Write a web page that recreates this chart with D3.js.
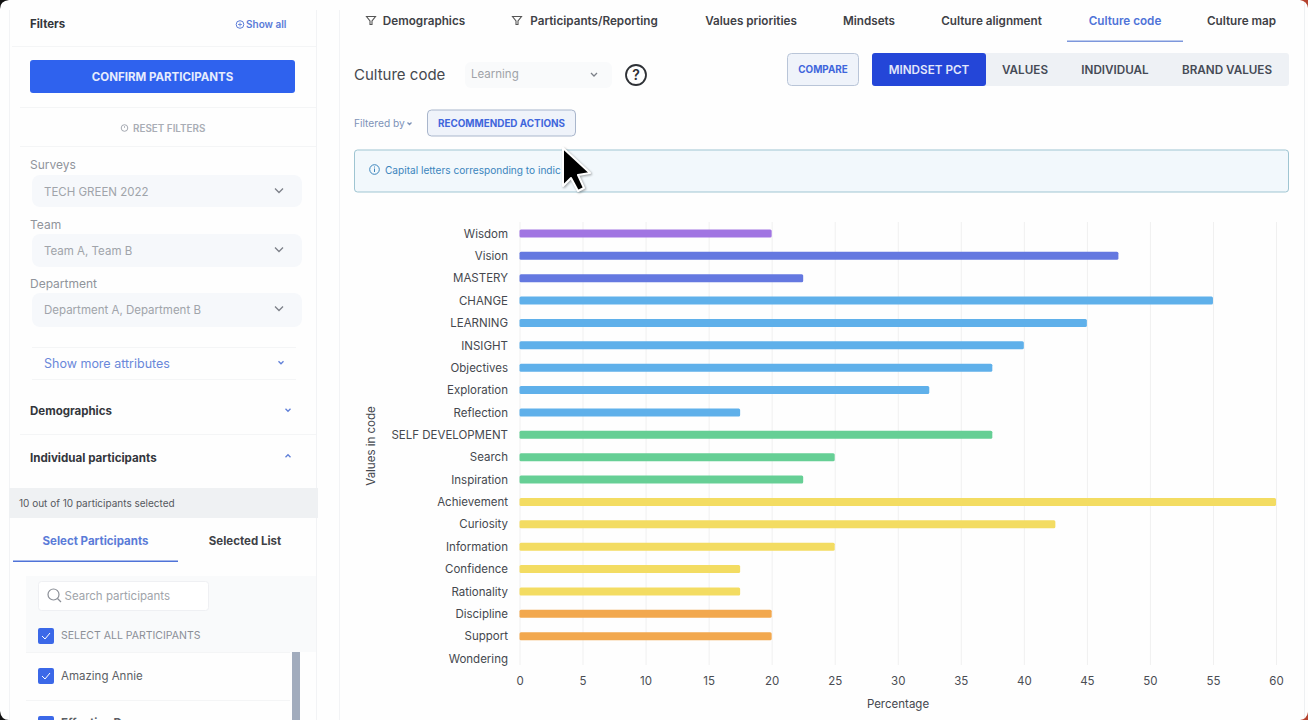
<!DOCTYPE html>
<html><head><meta charset="utf-8">
<style>html,body{margin:0;padding:0;background:#fff;overflow:hidden}svg{display:block;font-family:Inter,"Noto Sans",sans-serif}</style>
<script src="https://cdn.jsdelivr.net/npm/d3@7"></script></head>
<body><svg id="c" width="1308" height="720"></svg>
<script>
// ---------- data ----------
const categories = ["Wisdom","Vision","MASTERY","CHANGE","LEARNING","INSIGHT","Objectives","Exploration","Reflection","SELF DEVELOPMENT","Search","Inspiration","Achievement","Curiosity","Information","Confidence","Rationality","Discipline","Support","Wondering"];
const values = [20,47.5,22.5,55,45,40,37.5,32.5,17.5,37.5,25,22.5,60,42.5,25,17.5,17.5,20,20,0];
const groups = ["purple","indigo","indigo","blue","blue","blue","blue","blue","blue","green","green","green","yellow","yellow","yellow","yellow","yellow","orange","orange","red"];
const groupNames = ["purple","indigo","blue","green","yellow","orange","red"];
const groupColors = ["#a175e2","#6478e0","#5fb0ea","#66cf95","#f3dc62","#f2a84e","#e8655a"];
const xTicks = [0,5,10,15,20,25,30,35,40,45,50,55,60];
const xAxisLabel = "Percentage", yAxisLabel = "Values in code";
const topTabs = ["Demographics","Participants/Reporting","Values priorities","Mindsets","Culture alignment","Culture code","Culture map"];
const segments = ["MINDSET PCT","VALUES","INDIVIDUAL","BRAND VALUES"];
const selectLabels = ["Surveys","Team","Department"];
const selectValues = ["TECH GREEN 2022","Team A, Team B","Department A, Department B"];

const svg = d3.select("#c");
function T(x,y,s,o={}){return svg.append("text").attr("x",x).attr("y",y).attr("dy","0.35em")
  .attr("font-size",o.size||12).attr("font-weight",o.w||400).attr("fill",o.c||"#444")
  .attr("text-anchor",o.a||"start").text(s);}
function R(x,y,w,h,f,o={}){return svg.append("rect").attr("x",x).attr("y",y).attr("width",w).attr("height",h)
  .attr("rx",o.r||0).attr("fill",f).attr("stroke",o.s||"none").attr("stroke-width",o.sw||1);}
function L(x1,y1,x2,y2,c="#f4f5f6",w=1){svg.append("line").attr("x1",x1).attr("y1",y1).attr("x2",x2).attr("y2",y2).attr("stroke",c).attr("stroke-width",w);}
function Chev(x,y,c="#777",up=false,s=4){const d=up?-1:1;
  svg.append("path").attr("d",`M${x-s},${y-d*s/2}L${x},${y+d*s/2}L${x+s},${y-d*s/2}`).attr("fill","none").attr("stroke",c).attr("stroke-width",1.3);}
function Funnel(x,y){svg.append("path").attr("d",`M${x-4.5},${y-4}H${x+4.5}L${x+1},${y+.5}V${y+4}H${x-1}V${y+.5}Z`).attr("fill","none").attr("stroke","#555").attr("stroke-width",1.1);}
function Check(x,y){R(x,y,16,16,"#3b68e8",{r:2});
  svg.append("path").attr("d",`M${x+4},${y+8}L${x+7},${y+11}L${x+12},${y+5}`).attr("fill","none").attr("stroke","#fff").attr("stroke-width",1);}

// ---------- frame ----------
R(0,0,1308,720,"#fefefe");
L(9.5,10,9.5,720,"#f2f3f5"); L(316.5,10,316.5,720,"#f2f3f5"); L(339.5,10,339.5,720,"#f2f3f5"); L(1304.5,0,1304.5,720,"#eef0f2");

// ---------- sidebar ----------
T(30,23.5,"Filters",{size:11.5,w:700,c:"#33363c"});
svg.append("circle").attr("cx",240).attr("cy",24.5).attr("r",3.8).attr("fill","none").attr("stroke","#5a7bd8");
svg.append("path").attr("d","M238,24.5h4M240,22.5v4").attr("stroke","#5a7bd8").attr("stroke-width",.8);
T(246,24.5,"Show all",{size:10,w:600,c:"#5a7bd8"});
L(12,46.5,316,46.5);
R(30,60,265,33,"#2f62ee",{r:3});
T(162.5,76.5,"CONFIRM PARTICIPANTS",{size:11.5,w:700,c:"#e6ecfd",a:"middle"});
L(20,107.5,316,107.5); L(20,146.5,316,146.5);
svg.append("circle").attr("cx",124.5).attr("cy",128).attr("r",3.3).attr("fill","none").attr("stroke","#a5a9b2");
L(124.5,126,124.5,128,"#a5a9b2",.8);
T(133,128.5,"RESET FILTERS",{size:9.9,w:600,c:"#a9adb5"});
const selLabelY=[165,225,284], selTop=[175,234,293], selH=[32,33,34];
selectLabels.forEach((s,i)=>{
  T(30,selLabelY[i],s,{size:12,c:"#90949b"});
  R(32,selTop[i],270,selH[i],"#f6f8fb",{r:8});
  T(44,selTop[i]+16.5,selectValues[i],{size:11.5,c:"#a0a4aa"});
  Chev(279,selTop[i]+15.5,"#7c8088");
});
L(32,347.5,296,347.5); L(32,379.5,296,379.5);
T(44,364,"Show more attributes",{size:12.5,c:"#6a88da"});
Chev(281,362.5,"#5f7fd8",false,2.5);
T(30,410.5,"Demographics",{size:11.5,w:700,c:"#33363c"});
Chev(288,410,"#5f7fd8",false,2.5);
L(20,434.5,316,434.5);
T(30,457.5,"Individual participants",{size:11.6,w:700,c:"#33363c"});
Chev(288,456,"#5f7fd8",true,2.5);
R(9,488,309,30,"#eff1f3");
T(19,503.5,"10 out of 10 participants selected",{size:10,c:"#55585e"});
T(95.5,540.5,"Select Participants",{size:11.5,w:700,c:"#5a7bd8",a:"middle"});
T(245,540.5,"Selected List",{size:11.5,w:700,c:"#3e4146",a:"middle"});
R(13,560.5,165,1.5,"#4f73d8");
R(26,576,290,76,"#f9fafb");
R(38.5,581.5,170,29,"#fff",{r:3,s:"#eff0f3"});
svg.append("circle").attr("cx",53.5).attr("cy",594.5).attr("r",5.5).attr("fill","none").attr("stroke","#8b8f97").attr("stroke-width",1.2);
L(57.5,598.5,61,602,"#8b8f97",1.2);
T(64.5,595.5,"Search participants",{size:11.5,c:"#a0a4aa"});
Check(38,628);
T(61,635.5,"SELECT ALL PARTICIPANTS",{size:10.5,c:"#8b8f97"});
L(26,652.5,290,652.5);
Check(38,668);
T(61,676,"Amazing Annie",{size:11.5,c:"#5c5f65"});
L(26,700.5,290,700.5);
Check(38,716);
T(61,723,"Effective Dan",{size:11.5,w:700,c:"#5c5f65"});
R(292,652,8,68,"#a2acbd");

// ---------- top tabs ----------
const tabX=[424,594,751,869,991.5,1125,1241.5];
topTabs.forEach((s,i)=>{T(tabX[i],21,s,{size:11.7,w:600,c:i==5?"#4f73d8":"#3e4146",a:"middle"});});
Funnel(371,20.5); Funnel(517,20.5);
R(1067,40.5,116,1.5,"#7d97dc");

// ---------- toolbar ----------
T(354,75,"Culture code",{size:15,c:"#45484e"});
R(465,62,147,26,"#f9fafb",{r:6});
T(471,74,"Learning",{size:11.5,c:"#a0a3a8"});
Chev(594,74.5,"#7c8088",false,3);
svg.append("circle").attr("cx",636).attr("cy",75).attr("r",10).attr("fill","none").attr("stroke","#2e3136").attr("stroke-width",1.8);
T(636,75.5,"?",{size:14,w:600,c:"#2e3136",a:"middle"});
R(787.5,53.5,71,32,"#eff3fa",{r:4,s:"#b9c5d8"});
T(823,70,"COMPARE",{size:9.9,w:700,c:"#3f66dc",a:"middle"});
R(872,53,417,33,"#eef1f5",{r:3});
R(872,53,114,33,"#2446d8",{r:3});
const segX=[929,1025,1115,1227];
segments.forEach((s,i)=>T(segX[i],69.5,s,{size:11.7,w:600,c:i==0?"#e2e7fb":"#454a55",a:"middle"}));
T(354,123,"Filtered by",{size:10.2,c:"#7d93b8"}); Chev(409.5,123.5,"#7d93b8",false,2);
R(427.5,110,148,26,"#eff3fa",{r:4,s:"#a9b6cc"});
T(501.5,123.5,"RECOMMENDED ACTIONS",{size:9.9,w:700,c:"#3f66dc",a:"middle"});
R(354.5,150,934,42,"#f2f8fc",{r:3,s:"#9fc5d2"});
svg.append("circle").attr("cx",374.5).attr("cy",169.5).attr("r",4.8).attr("fill","none").attr("stroke","#3b85bd");
L(374.5,168.5,374.5,172,"#3b85bd"); L(374.5,166.5,374.5,167.5,"#3b85bd");
T(385,170.5,"Capital letters corresponding to indic",{size:10.1,c:"#3b85bd"});

// ---------- chart ----------
const x = d3.scaleLinear().domain([0,60]).range([519.5,1276]);
const y = d3.scalePoint().domain(categories).range([233.5,658.5]);
const color = d3.scaleOrdinal().domain(groupNames).range(groupColors);
const rows = categories.map((c,i)=>({c,v:values[i],g:groups[i]}));

const gx = svg.append("g").attr("transform","translate(0,665)")
  .call(d3.axisBottom(x).tickValues(xTicks).tickSize(443).tickSizeOuter(0).tickFormat(d3.format("d")));
gx.select(".domain").remove();
gx.selectAll("line").attr("y1",-443).attr("y2",0).attr("stroke","#f0f0f0");
gx.selectAll("text").attr("y",16).attr("dy","0.35em").attr("font-size",11.5).attr("font-family","Inter").attr("fill","#4a4d53");

const gy = svg.append("g").attr("transform","translate(508,0)").call(d3.axisLeft(y).tickSize(0).tickPadding(0));
gy.select(".domain").remove();
gy.selectAll("text").attr("font-size",11.5).attr("font-family","Inter").attr("fill","#45484e");

svg.append("g").selectAll("rect").data(rows).join("rect")
  .attr("x",x(0)).attr("y",d=>y(d.c)-4).attr("height",8).attr("rx",1.5)
  .attr("width",d=>x(d.v)-x(0)).attr("fill",d=>color(d.g));

T(898,704,xAxisLabel,{size:11.5,c:"#45484e",a:"middle"});
svg.append("text").attr("transform","translate(371,446) rotate(-90)").attr("text-anchor","middle").attr("dy","0.35em")
  .attr("font-size",11.5).attr("fill","#45484e").text(yAxisLabel);

// ---------- cursor ----------
svg.append("path").attr("d","M563,148V186L571,178L578,191L584,188L578,175L590,173Z")
  .attr("fill","#000").attr("stroke","#fff").attr("stroke-width",2).attr("stroke-linejoin","round")
  .style("filter","drop-shadow(1px 1px 1px rgba(0,0,0,.35))");

// ---------- window corners ----------
svg.append("path").attr("d","M0,0H9Q0,1 0,9Z").attr("fill","#111");
svg.append("path").attr("d","M0,720V711Q1,720 9,720Z").attr("fill","#111");
svg.append("path").attr("d","M1308,0H1300Q1307,1 1308,8Z").attr("fill","#b5432f");
svg.append("path").attr("d","M1308,720V712Q1307,719 1300,720Z").attr("fill","#b5432f");
</script></body></html>
